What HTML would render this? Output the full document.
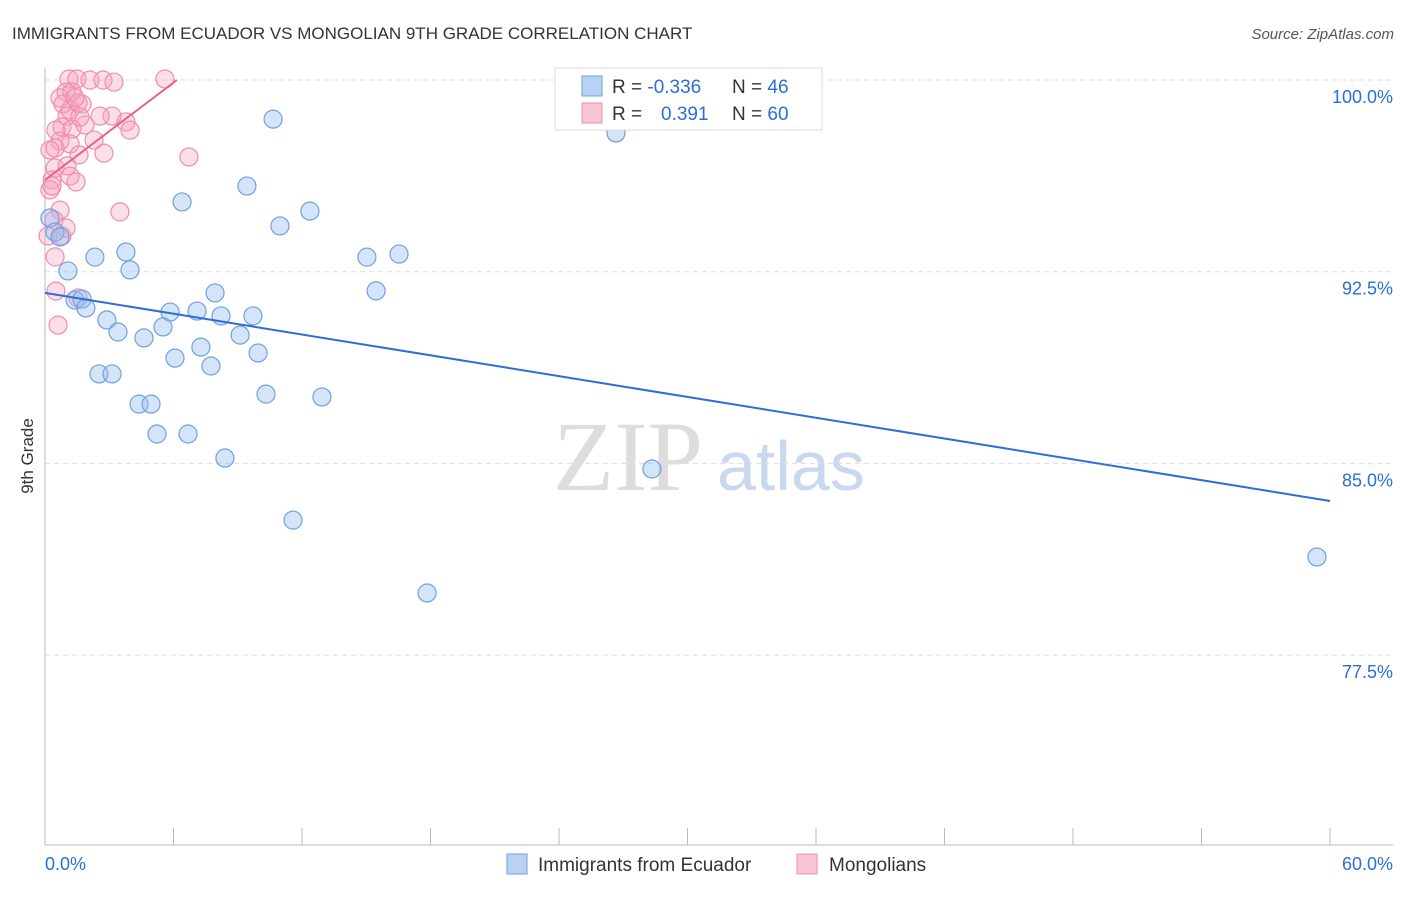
<!DOCTYPE html>
<html><head><meta charset="utf-8"><style>
body{margin:0;background:#fff;font-family:"Liberation Sans",sans-serif;}
svg text{font-family:"Liberation Sans",sans-serif;}
svg text.serif{font-family:"Liberation Serif",serif;}
</style></head><body>
<svg id="chart" width="1406" height="892">
<text x="12" y="39" font-size="17" fill="#333">IMMIGRANTS FROM ECUADOR VS MONGOLIAN 9TH GRADE CORRELATION CHART</text>
<text x="1394" y="39" font-size="15" fill="#555" text-anchor="end" font-style="italic">Source: ZipAtlas.com</text>
<text x="33" y="456" font-size="17" fill="#333" transform="rotate(-90 33 456)" text-anchor="middle">9th Grade</text>
<text class="serif" x="553" y="490" font-size="100" fill="#ddd">ZIP</text>
<text x="717" y="490" font-size="70" fill="#c8d8ee">atlas</text>
<g id="grid"></g><g id="axes"></g><g id="pts"></g><g id="lines"></g>
<g>
<rect x="555" y="68" width="267" height="62" fill="#fff" stroke="#ddd"/>
<rect x="582" y="76" width="20" height="20" fill="#b8d2f4" stroke="#6fa0e0"/>
<rect x="582" y="103" width="20" height="20" fill="#f9c4d4" stroke="#f08cb0"/>
<text x="612" y="93" font-size="19" fill="#333">R = <tspan fill="#2a6fd6">-0.336</tspan></text>
<text x="732" y="93" font-size="19" fill="#333">N = <tspan fill="#2a6fd6">46</tspan></text>
<text x="612" y="120" font-size="19" fill="#333">R = <tspan fill="#2a6fd6" x="661">0.391</tspan></text>
<text x="732" y="120" font-size="19" fill="#333">N = <tspan fill="#2a6fd6">60</tspan></text>
</g>
<g>
<rect x="507" y="854" width="20" height="20" fill="#b8d2f4" stroke="#6fa0e0"/>
<text x="538" y="871" font-size="19" fill="#333">Immigrants from Ecuador</text>
<rect x="797" y="854" width="20" height="20" fill="#f9c4d4" stroke="#f08cb0"/>
<text x="829" y="871" font-size="19" fill="#333">Mongolians</text>
</g>
<text x="45" y="870" font-size="18" fill="#2a6fd6">0.0%</text>
<text x="1393" y="870" font-size="18" fill="#2a6fd6" text-anchor="end">60.0%</text>
</svg>
<script>
const yTicks=[100,92.5,85,77.5];
const yTickLabels=["100.0%","92.5%","85.0%","77.5%"];
const xTicks=[0,6,12,18,24,30,36,42,48,54,60];
const blueX=[10.65,26.66,9.43,6.40,12.37,10.97,0.23,0.47,0.70,2.33,3.78,15.03,16.53,1.07,3.97,15.46,7.94,1.40,1.73,1.91,2.89,3.41,5.84,7.10,8.22,9.71,5.51,4.62,9.11,7.28,9.95,6.07,7.75,2.52,3.13,10.32,12.93,4.39,4.95,5.23,6.68,8.40,28.34,11.58,17.84,59.39];
const blueY=[98.47,97.93,95.85,95.23,94.87,94.29,94.6,94.05,93.86,93.07,93.27,93.07,93.19,92.53,92.57,91.75,91.67,91.39,91.43,91.08,90.61,90.14,90.92,90.96,90.77,90.77,90.34,89.91,90.02,89.55,89.32,89.12,88.81,88.50,88.50,87.71,87.60,87.32,87.32,86.15,86.15,85.21,84.78,82.78,79.93,81.34];
const pinkX=[1.12,1.49,2.10,2.71,3.22,5.60,0.98,1.26,0.84,1.73,1.17,1.54,1.03,3.13,3.78,0.79,1.26,3.97,0.70,1.17,2.29,0.47,1.59,2.75,6.72,0.47,1.03,0.33,1.17,1.45,0.23,0.33,3.50,0.70,0.42,0.98,0.47,0.51,1.54,0.61,0.14,0.79,1.87,0.70,1.40,2.57,0.51,1.63,0.23];
const pinkY=[100.04,100.04,100,100,99.92,100.04,99.53,99.53,99.06,99.06,98.83,99.10,98.59,98.59,98.36,98.16,98.08,98.04,97.61,97.50,97.65,97.34,97.07,97.14,96.99,96.56,96.64,96.09,96.24,96.01,95.70,95.85,94.84,94.91,94.52,94.21,93.08,91.74,91.47,90.41,93.90,93.90,98.24,99.30,99.30,98.59,98.04,98.55,97.26];
const blueTrend=[[0,91.67],[60,83.53]];
const pinkTrend=[[0,96.09],[6.16,100]];
const NS="http://www.w3.org/2000/svg";
const sx=v=>45+v/60*1285, sy=v=>80+(100-v)/7.5*191.7;
function mk(tag,attrs,parent){const e=document.createElementNS(NS,tag);for(const k in attrs)e.setAttribute(k,attrs[k]);document.getElementById(parent).appendChild(e);return e;}
yTicks.forEach((t,i)=>{
 const l=mk('line',{x1:45,x2:1393,y1:sy(t),y2:sy(t),stroke:'#ddd','stroke-dasharray':'5,4'},'grid');
 
 
 const tx=mk('text',{x:1393,y:sy(t)+23,'font-size':18,fill:'#2a6fd6','text-anchor':'end'},'grid');
 tx.textContent=yTickLabels[i];
 
 
});
const ya=mk('line',{x1:45,x2:45,y1:68,y2:845,stroke:'#bbb'},'axes');


const xa=mk('line',{x1:45,x2:1393,y1:845,y2:845,stroke:'#bbb'},'axes');


xTicks.forEach(t=>{
 const l=mk('line',{x1:sx(t),x2:sx(t),y1:828,y2:845,stroke:'#bbb'},'axes');
 
 
});
pinkX.forEach((x,i)=>{
 const c=mk('circle',{cx:sx(x),cy:sy(pinkY[i]),r:9,fill:'rgba(245,160,190,0.35)',stroke:'#f08cb0','stroke-width':1.2},'pts');
 
 
});
blueX.forEach((x,i)=>{
 const c=mk('circle',{cx:sx(x),cy:sy(blueY[i]),r:9,fill:'rgba(150,190,240,0.4)',stroke:'#6fa0e0','stroke-width':1.2},'pts');
 
 
});
const bl=mk('line',{x1:sx(blueTrend[0][0]),y1:sy(blueTrend[0][1]),x2:sx(blueTrend[1][0]),y2:sy(blueTrend[1][1]),stroke:'#2a6fd6','stroke-width':2},'lines');


const pl=mk('line',{x1:sx(pinkTrend[0][0]),y1:sy(pinkTrend[0][1]),x2:sx(pinkTrend[1][0]),y2:sy(pinkTrend[1][1]),stroke:'#e8608e','stroke-width':2},'lines');


</script>
</body></html>
